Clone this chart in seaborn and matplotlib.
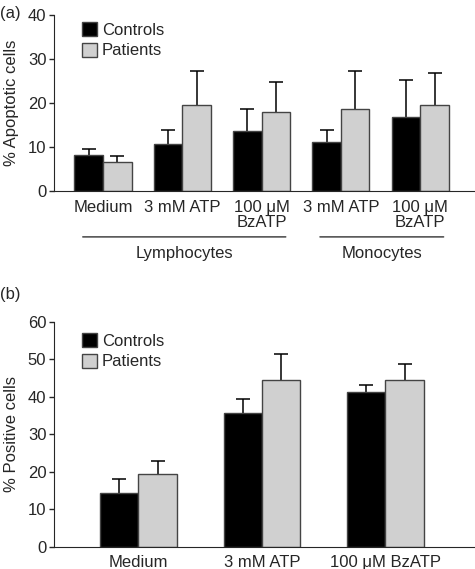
import numpy as np
import pandas as pd
import matplotlib
matplotlib.use("Agg")
import matplotlib.pyplot as plt
import seaborn as sns

# panel (a): apoptosis
a_keys = ["L_med", "L_atp", "L_bz", "M_atp", "M_bz"]
a_labels = ["Medium", "3 mM ATP", "100 μM\nBzATP", "3 mM ATP", "100 μM\nBzATP"]
a_controls = [8.2, 10.8, 13.8, 11.1, 16.9]
a_controls_sd = [1.3, 3.1, 4.8, 2.8, 8.4]
a_patients = [6.7, 19.7, 18.0, 18.7, 19.5]
a_patients_sd = [1.4, 7.6, 6.8, 8.6, 7.3]

# panel (b): positive cells
b_labels = ["Medium", "3 mM ATP", "100 μM BzATP"]
b_controls = [14.4, 35.6, 41.2]
b_controls_sd = [3.6, 3.9, 2.0]
b_patients = [19.4, 44.4, 44.4]
b_patients_sd = [3.4, 7.0, 4.5]

groups = ["Controls", "Patients"]
palette = {"Controls": "#000000", "Patients": "#d0d0d0"}
FS = 12

sns.set_style("ticks")
plt.rcParams["font.family"] = ["Liberation Sans", "DejaVu Sans"]


def make_df(keys, ctrl, pat):
    return pd.DataFrame({
        "cond": list(keys) * 2,
        "group": ["Controls"] * len(keys) + ["Patients"] * len(keys),
        "value": list(ctrl) + list(pat),
    })


def draw(ax, keys, ctrl, ctrl_sd, pat, pat_sd, width):
    df = make_df(keys, ctrl, pat)
    sns.barplot(data=df, x="cond", y="value", hue="group", order=keys,
                hue_order=groups, palette=palette, width=width, gap=0,
                errorbar=None, edgecolor="#444444", linewidth=1.0,
                saturation=1, ax=ax)
    for cont, sds in zip(ax.containers, [ctrl_sd, pat_sd]):
        xs = [p.get_x() + p.get_width() / 2 for p in cont]
        ys = [p.get_height() for p in cont]
        eb = ax.errorbar(xs, ys, yerr=[np.zeros(len(sds)), sds], fmt="none",
                         ecolor="black", elinewidth=1.1, capsize=5,
                         capthick=1.1, zorder=0.5)
        # only the upper cap is shown
        eb[1][0].remove()
    sns.despine(ax=ax)
    ax.tick_params(axis="x", length=0, labelsize=FS, pad=6)
    ax.tick_params(axis="y", length=3.5, labelsize=FS, width=1, pad=2)
    ax.set_xlabel("")
    leg = ax.legend(frameon=False, fontsize=FS, handlelength=0.9,
                    handleheight=0.9, handletextpad=0.3, labelspacing=0.3,
                    loc="upper left", borderaxespad=0)
    return leg


fig = plt.figure(figsize=(4.75, 5.69), dpi=100)

ax1 = fig.add_axes([0.1137, 0.664, 0.8863, 0.309])
leg1 = draw(ax1, a_keys, a_controls, a_controls_sd, a_patients, a_patients_sd, 0.72)
ax1.set_ylim(0, 40)
ax1.set_yticks([0, 10, 20, 30, 40])
ax1.set_xlim(-0.617, 4.69)
ax1.set_xticks(range(len(a_keys)))
ax1.set_xticklabels(a_labels, linespacing=1.05, va="top")
ax1.set_ylabel("% Apoptotic cells", fontsize=FS, labelpad=6)
leg1.set_bbox_to_anchor((0.05, 1.0), transform=ax1.transAxes)

# cell type brackets under panel (a)
for x0, x1, name in [(-0.29, 2.34, "Lymphocytes"), (2.70, 4.33, "Monocytes")]:
    ax1.annotate("", xy=(x0, -0.26), xytext=(x1, -0.26),
                 xycoords=("data", "axes fraction"),
                 arrowprops=dict(arrowstyle="-", color="#333333", lw=1))
    ax1.text((x0 + x1) / 2, -0.31, name, transform=ax1.get_xaxis_transform(),
             ha="center", va="top", fontsize=FS)

ax2 = fig.add_axes([0.1137, 0.0392, 0.8863, 0.395])
leg2 = draw(ax2, b_labels, b_controls, b_controls_sd, b_patients, b_patients_sd, 0.62)
ax2.set_ylim(0, 60)
ax2.set_yticks([0, 10, 20, 30, 40, 50, 60])
ax2.set_xlim(-0.684, 2.725)
ax2.set_ylabel("% Positive cells", fontsize=FS, labelpad=6)
leg2.set_bbox_to_anchor((0.05, 0.98), transform=ax2.transAxes)

fig.text(0.0, 0.977, "(a)", fontsize=FS, ha="left", va="center")
fig.text(0.0, 0.482, "(b)", fontsize=FS, ha="left", va="center")

fig.savefig("out.png", dpi=100)
plt.close(fig)
